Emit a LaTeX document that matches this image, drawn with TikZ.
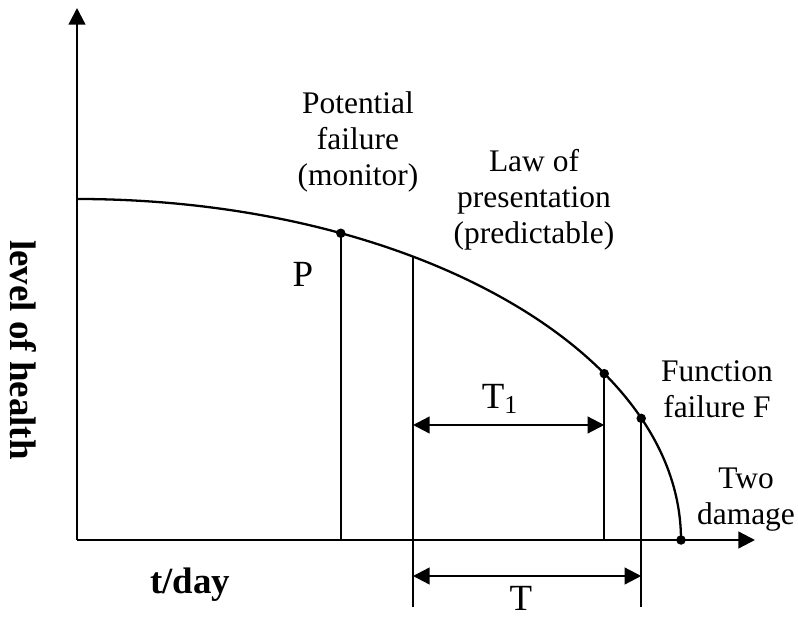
\documentclass[tikz,border=0pt]{standalone}
\usepackage{fontspec}
\setmainfont{Liberation Serif}
\usetikzlibrary{arrows.meta}

\begin{document}
\begin{tikzpicture}[>={Triangle[length=9.5pt, width=9.5pt]}, line width=1.3pt,
  lbl/.style={align=center, inner sep=0pt, font=\fontsize{17.9}{20.5}\selectfont},
  big/.style={inner sep=0pt, font=\fontsize{21}{24}\selectfont},
  bold/.style={inner sep=0pt, font=\fontsize{21}{24}\selectfont\bfseries},
  dot/.style={circle, fill, inner sep=0pt, minimum size=0.19cm}]
  \useasboundingbox (-1.54,-1.58) rectangle (14.42,10.8);
  \coordinate (O) at (0,0);
  \coordinate (Y) at (0,10.64);
  \coordinate (X) at (13.56,0);
  \coordinate (B) at (0,-1.34);
  \coordinate (S) at (0,6.82);
  \coordinate (E) at (12.08,0);
  \coordinate (P) at (64.1:12.08 and 6.82);
  \coordinate (L) at (56.2:12.08 and 6.82);
  \coordinate (Q) at (29.2:12.08 and 6.82);
  \coordinate (F) at (20.9:12.08 and 6.82);

  \draw[->] (O) -- (Y);
  \draw[->] (O) -- (X);
  \draw (S) arc (90:0:12.08 and 6.82);

  \draw (P) -- (P |- O);
  \draw (L) -- (L |- B);
  \draw (Q) -- (Q |- O);
  \draw (F) -- (F |- B);

  \node[dot] (p) at (P) {};
  \node[dot] (q) at (Q) {};
  \node[dot] (f) at (F) {};
  \node[dot] (e) at (E) {};

  \draw[<->] (L |- 0,2.3) -- (Q |- 0,2.3);
  \draw[<->] (L |- 0,-0.72) -- (F |- 0,-0.72);

  \node[lbl] (pot) at (5.62,7.96) {Potential\\failure\\(monitor)};
  \node[lbl] (law) at (9.14,6.8) {Law of\\presentation\\(predictable)};
  \node[lbl] (fun) at (12.8,3.02) {Function\\failure F};
  \node[lbl] (two) at (13.38,0.8) {Two\\damage};
  \node[big] (pl) at (4.52,5.32) {P};
  \node[big] (t1) at (8.46,2.82) {T\textsubscript{1}};
  \node[big] (tl) at (8.88,-1.16) {T};
  \node[bold] (td) at (2.26,-0.9) {t/day};
  \node[bold, rotate=-90] (lh) at (-1.08,3.8) {level of health};
\end{tikzpicture}
\end{document}
